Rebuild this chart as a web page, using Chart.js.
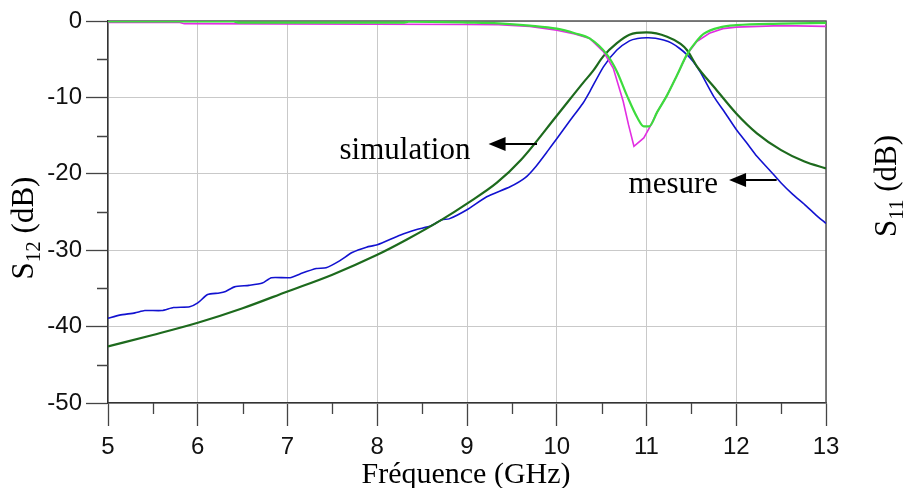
<!DOCTYPE html>
<html>
<head>
<meta charset="utf-8">
<script src="https://cdn.jsdelivr.net/npm/chart.js@4.4.1/dist/chart.umd.min.js"></script>
<style>
  html, body { margin: 0; padding: 0; background: #fff; }
  #wrap { width: 903px; height: 488px; position: relative; }
</style>
</head>
<body>
<div id="wrap"><canvas id="chart_s12_s11"></canvas></div>
<script>
// S12 simulation (dB) vs frequency (GHz)
var simS12Freq = [5.0, 5.5, 6.0, 6.5, 7.0, 7.5, 8.0, 8.33, 8.72, 9.0, 9.33, 9.6, 10.0, 10.3, 10.4, 10.52,
                  10.67, 10.81, 11.0, 11.23, 11.38, 11.45, 11.56, 11.75, 12.0, 12.23, 12.5, 12.76, 13.0];
var simS12 = [-42.6, -41.1, -39.5, -37.6, -35.4, -33.2, -30.6, -28.6, -26.0, -23.9, -21.2, -18.2, -12.4, -8.0, -6.6, -4.6,
              -2.9, -1.8, -1.5, -2.05, -3.0, -3.8, -5.9, -8.6, -12.1, -14.7, -16.9, -18.4, -19.3];

// S12 measured
var mesS12Freq = [5.0, 5.13, 5.3, 5.41, 5.6, 5.73, 5.91, 6.0, 6.11, 6.24, 6.31, 6.41, 6.57, 6.72, 6.82, 7.03,
                  7.14, 7.32, 7.43, 7.58, 7.72, 7.88, 8.0, 8.26, 8.44, 8.6, 8.72, 8.8, 9.0, 9.22, 9.48, 9.65,
                  9.77, 9.9, 10.0, 10.15, 10.29, 10.37, 10.52, 10.67, 10.81, 10.9, 11.0, 11.1, 11.19, 11.28,
                  11.37, 11.45, 11.52, 11.6, 11.75, 11.88, 12.0, 12.12, 12.23, 12.37, 12.5, 12.63, 12.76, 12.88, 13.0];
var mesS12 = [-38.9, -38.5, -38.2, -37.9, -37.9, -37.5, -37.4, -36.9, -35.8, -35.6, -35.4, -34.8, -34.6, -34.3, -33.6, -33.6,
              -33.1, -32.4, -32.3, -31.4, -30.3, -29.6, -29.3, -28.0, -27.3, -26.8, -26.0, -25.9, -24.7, -23.0, -21.7, -20.5,
              -19.0, -17.0, -15.4, -13.0, -10.8, -9.2, -6.0, -3.8, -2.6, -2.3, -2.2, -2.25, -2.5, -2.9,
              -3.6, -4.4, -5.3, -6.7, -9.9, -12.1, -14.2, -16.0, -17.7, -19.5, -21.2, -22.7, -24.0, -25.3, -26.5];

// S11 simulation
var simS11Freq = [5.0, 6.4, 6.45, 8.3, 8.35, 9.0, 9.35, 9.7, 10.0, 10.2, 10.37, 10.56, 10.67, 10.78, 10.9, 10.97,
                  11.03, 11.12, 11.23, 11.34, 11.45, 11.56, 11.64, 11.83, 12.0, 12.5, 13.0];
var simS11 = [-0.05, -0.05, -0.2, -0.2, -0.1, -0.2, -0.3, -0.6, -1.0, -1.6, -2.3, -4.4, -6.6, -9.7, -12.7, -13.8,
              -13.8, -11.9, -9.7, -7.1, -4.4, -2.6, -1.65, -0.8, -0.55, -0.35, -0.25];

// S11 measured
var mesS11Freq = [5.0, 5.8, 5.85, 9.0, 9.35, 9.7, 10.0, 10.2, 10.37, 10.52, 10.63, 10.74, 10.8, 10.86, 10.97, 11.05,
                  11.12, 11.23, 11.34, 11.45, 11.56, 11.7, 11.85, 12.0, 12.5, 13.0];
var mesS11 = [-0.2, -0.2, -0.35, -0.45, -0.5, -0.7, -1.2, -1.7, -2.3, -4.0, -6.2, -10.5, -13.6, -16.4, -15.3, -13.6,
              -11.9, -9.7, -7.1, -4.4, -2.7, -1.6, -1.0, -0.8, -0.6, -0.7];

function pairs(xs, ys) {
  return xs.map(function (x, i) { return { x: x, y: ys[i] }; });
}

var serif = '"Liberation Serif", "Times New Roman", serif';
var sans = '"Liberation Sans", Arial, sans-serif';

// frame on top/right + minor tick marks
var framePlugin = {
  id: 'framePlugin',
  beforeDatasetsDraw: function (chart) {
    var ctx = chart.ctx, a = chart.chartArea, sx = chart.scales.x, sy = chart.scales.y;
    ctx.save();
    ctx.strokeStyle = '#555';
    ctx.lineWidth = 1.5;
    ctx.beginPath();
    ctx.moveTo(a.left, a.top);
    ctx.lineTo(a.right, a.top);
    ctx.lineTo(a.right, a.bottom);
    ctx.stroke();
    ctx.strokeStyle = '#444';
    ctx.lineWidth = 1.3;
    ctx.beginPath();
    for (var f = 5.5; f < 13; f += 1) {
      var px = Math.round(sx.getPixelForValue(f)) + 0.5;
      ctx.moveTo(px, a.bottom);
      ctx.lineTo(px, a.bottom + 11);
    }
    for (var d = -5; d > -50; d -= 10) {
      var py = Math.round(sy.getPixelForValue(d)) + 0.5;
      ctx.moveTo(a.left - 11, py);
      ctx.lineTo(a.left, py);
    }
    ctx.stroke();
    ctx.restore();
  }
};

// rotated "S12 (dB)" style title with subscript
function subTitle(ctx, main, sub, rest, cx, baseX, size) {
  var big = size + 'px ' + serif, small = Math.round(size * 0.68) + 'px ' + serif;
  ctx.save();
  ctx.font = big;
  var w1 = ctx.measureText(main).width, w3 = ctx.measureText(rest).width;
  ctx.font = small;
  var w2 = ctx.measureText(sub).width;
  var total = w1 + w2 + w3;
  ctx.translate(baseX, cx);
  ctx.rotate(-Math.PI / 2);
  ctx.fillStyle = '#000';
  ctx.textBaseline = 'alphabetic';
  ctx.textAlign = 'left';
  var x = -total / 2;
  ctx.font = big;
  ctx.fillText(main, x, 0);
  ctx.font = small;
  ctx.fillText(sub, x + w1, size * 0.22);
  ctx.font = big;
  ctx.fillText(rest, x + w1 + w2, 0);
  ctx.restore();
}

function arrowLeft(ctx, x0, x1, y) {
  ctx.beginPath();
  ctx.moveTo(x0, y);
  ctx.lineTo(x1 + 14, y);
  ctx.stroke();
  ctx.beginPath();
  ctx.moveTo(x1, y);
  ctx.lineTo(x1 + 17, y - 7);
  ctx.lineTo(x1 + 17, y + 7);
  ctx.closePath();
  ctx.fill();
}

var labelsPlugin = {
  id: 'labelsPlugin',
  afterDraw: function (chart) {
    var ctx = chart.ctx, sx = chart.scales.x, sy = chart.scales.y;
    ctx.save();
    ctx.fillStyle = '#000';
    ctx.strokeStyle = '#000';
    ctx.lineWidth = 2;
    ctx.font = '31px ' + serif;
    ctx.textBaseline = 'alphabetic';
    ctx.textAlign = 'left';
    ctx.fillText('simulation', sx.getPixelForValue(7.58), sy.getPixelForValue(-18.0));
    arrowLeft(ctx, sx.getPixelForValue(9.78), sx.getPixelForValue(9.24), sy.getPixelForValue(-16.1));
    ctx.fillText('mesure', sx.getPixelForValue(10.8), sy.getPixelForValue(-22.5));
    arrowLeft(ctx, sx.getPixelForValue(12.45), sx.getPixelForValue(11.92), sy.getPixelForValue(-20.8));

    ctx.font = '30px ' + serif;
    ctx.textAlign = 'center';
    ctx.fillText('Fréquence (GHz)', 466, 483);
    ctx.restore();

    subTitle(ctx, 'S', '12', ' (dB)', 228, 33, 31);
    subTitle(ctx, 'S', '11', ' (dB)', 186, 896, 31);
  }
};

var chart_s12_s11 = new Chart(document.getElementById('chart_s12_s11'), {
  type: 'line',
  data: {
    datasets: [
      {
        label: 'S11 simulation',
        data: pairs(simS11Freq, simS11),
        borderColor: '#3ddc3d',
        borderWidth: 2.2,
        cubicInterpolationMode: 'monotone'
      },
      {
        label: 'S11 mesure',
        data: pairs(mesS11Freq, mesS11),
        borderColor: '#e22ee2',
        borderWidth: 1.6
      },
      {
        label: 'S12 simulation',
        data: pairs(simS12Freq, simS12),
        borderColor: '#1d6a1d',
        borderWidth: 2.2,
        cubicInterpolationMode: 'monotone'
      },
      {
        label: 'S12 mesure',
        data: pairs(mesS12Freq, mesS12),
        borderColor: '#1212d0',
        borderWidth: 1.6,
        tension: 0.2
      }
    ]
  },
  options: {
    animation: false,
    responsive: true,
    maintainAspectRatio: false,
    elements: { point: { radius: 0 }, line: { tension: 0 } },
    layout: { padding: { left: 0, right: 77, top: 21, bottom: 0 } },
    plugins: {
      legend: { display: false },
      tooltip: { enabled: false }
    },
    scales: {
      x: {
        type: 'linear',
        min: 5,
        max: 13,
        ticks: {
          stepSize: 1,
          color: '#111',
          padding: 7,
          maxRotation: 0,
          font: { family: sans, size: 24 }
        },
        grid: { color: '#c9c9c9', lineWidth: 1, tickLength: 23, tickColor: '#444', tickWidth: 1.3 },
        border: { color: '#333', width: 1.5 },
        afterFit: function (s) { s.height = 85; }
      },
      y: {
        min: -50,
        max: 0,
        ticks: {
          stepSize: 10,
          color: '#111',
          padding: 4,
          font: { family: sans, size: 24 }
        },
        grid: { color: '#c9c9c9', lineWidth: 1, tickLength: 22, tickColor: '#444', tickWidth: 1.3 },
        border: { color: '#333', width: 1.5 },
        afterFit: function (s) { s.width = 108; }
      }
    }
  },
  plugins: [framePlugin, labelsPlugin]
});
</script>
</body>
</html>
